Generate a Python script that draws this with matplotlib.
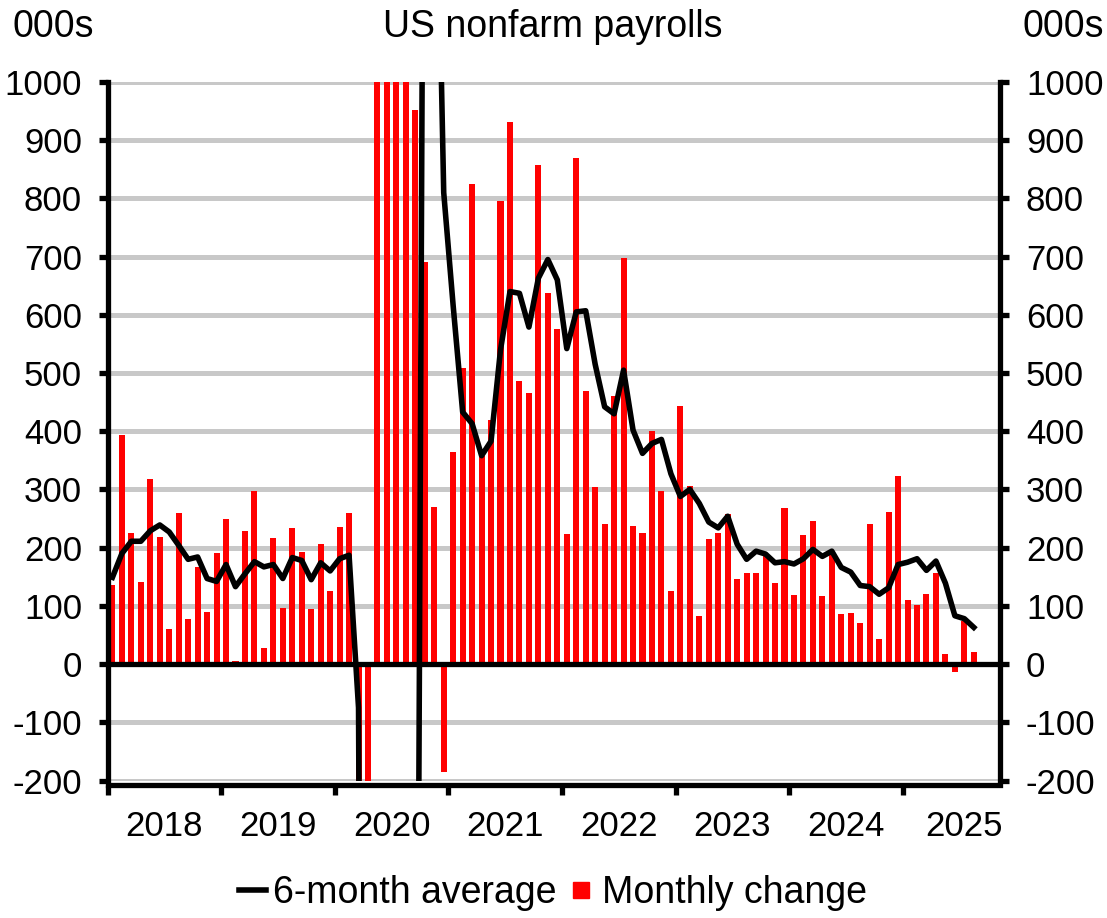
import numpy as np
import matplotlib
matplotlib.use('Agg')
from matplotlib import pyplot as plt
from matplotlib.lines import Line2D

plt.rcParams['font.family'] = ['Liberation Sans', 'DejaVu Sans']
plt.rcParams['axes.unicode_minus'] = False

# monthly change in nonfarm payrolls, 000s, Jan 2018 - Aug 2025
monthly = [
    136, 394, 225, 141, 318, 218, 60, 259, 78, 167, 90, 191,        # 2018
    250, 5, 229, 298, 27, 217, 96, 234, 193, 94, 207, 126,           # 2019
    236, 260, -1373, -20500, 2700, 4500, 1700, 1500, 952, 691, 270, -185,  # 2020
    364, 509, 824, 358, 420, 796, 931, 486, 466, 858, 637, 575,      # 2021
    224, 869, 470, 305, 240, 461, 697, 237, 226, 400, 297, 125,      # 2022
    444, 306, 83, 215, 226, 257, 147, 156, 157, 185, 140, 269,       # 2023
    118, 221, 246, 117, 189, 86, 87, 70, 240, 43, 261, 323,          # 2024
    110, 101, 120, 157, 18, -14, 74, 21,                             # 2025
]

# 6-month average
avg6 = [
    149, 190, 211, 211, 229, 239, 227, 204, 180, 184, 147, 142,
    171, 133, 155, 176, 167, 171, 147, 183, 178, 145, 174, 160,
    181, 187, -75, -3510, -3050, -2340, -2050, -1790, -1525, 2007, 1602, 810,
    615, 433, 413, 358, 383, 540, 640, 637, 579, 663, 695, 660,
    542, 605, 607, 515, 442, 430, 505, 402, 362, 379, 386, 327,
    288, 300, 276, 244, 234, 254, 206, 180, 194, 189, 174, 176,
    172, 181, 197, 185, 194, 166, 158, 135, 133, 120, 131, 171,
    175, 181, 161, 177, 139, 83, 78, 63,
]

years = ['2018', '2019', '2020', '2021', '2022', '2023', '2024', '2025']

W, H = 1107, 918
fig = plt.figure(figsize=(W / 100, H / 100), dpi=100)
x0, x1, ytop, ybot = 107.7, 1000.3, 82, 780.5
ax = fig.add_axes([x0 / W, 1 - ybot / H, (x1 - x0) / W, (ybot - ytop) / H])

x = np.arange(len(monthly))
ax.bar(x, monthly, width=0.64, color='#ff0000', zorder=2)
ax.plot(x, avg6, color='black', lw=4.0, zorder=3)
ax.axhline(0, color='black', lw=3.8, zorder=4)

ax.set_xlim(-0.5, 93.8)
ax.set_ylim(-200, 1000)
ax.set_yticks(np.arange(-200, 1001, 100))
ax.yaxis.grid(True, color='#c8c8c8', lw=3.6)
ax.set_axisbelow(True)

for s in ['left', 'right', 'bottom']:
    ax.spines[s].set_linewidth(3.8)
    ax.spines[s].set_color('black')
ax.spines['top'].set_visible(False)
ax.spines['bottom'].set_position(('outward', 3.5))

# year boundaries as ticks, labels in the middle of each year
bounds = [-0.5 + 12 * k for k in range(8)]
ax.set_xticks(bounds)
ax.set_xticklabels([])
centers = [5.5 + 12 * k for k in range(7)] + [90]
ax.set_xticks(centers, minor=True)
ax.set_xticklabels(years, minor=True, fontsize=25)
ax.tick_params(axis='x', which='major', direction='out', length=7, width=3.8)
ax.tick_params(axis='x', which='minor', length=0, pad=18)

ax.tick_params(axis='y', direction='out', length=6.5, width=3.8, labelsize=25,
               left=True, right=True, labelleft=True, labelright=True, pad=12)

fig.text(13 / W, 1 - 27 / H, '000s', fontsize=27, ha='left', va='center')
fig.text(1022 / W, 1 - 27 / H, '000s', fontsize=27, ha='left', va='center')
fig.text(553 / W, 1 - 27 / H, 'US nonfarm payrolls', fontsize=27, ha='center', va='center')

handles = [Line2D([], [], color='black', lw=4.0),
           Line2D([], [], color='#ff0000', marker='s', linestyle='none', markersize=11)]
fig.legend(handles, ['6-month average', 'Monthly change'], loc='center',
           bbox_to_anchor=(553 / W, 1 - 893 / H), ncol=2, frameon=False,
           fontsize=27, handlelength=0.7, handletextpad=0.2, columnspacing=0.3,
           borderpad=0, borderaxespad=0)

fig.savefig('out.png', dpi=100)
